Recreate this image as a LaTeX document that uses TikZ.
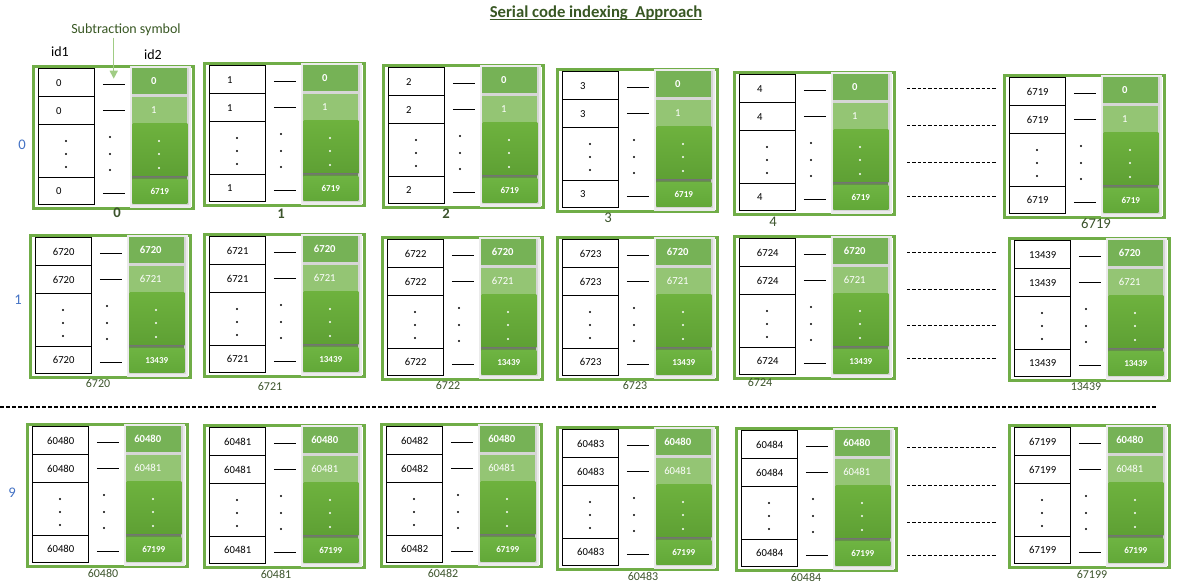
\documentclass[tikz,border=0pt]{standalone}
\usepackage{fontspec}
\setmainfont{Carlito}
\usepackage{tikz}
\usetikzlibrary{arrows.meta,calc}
\definecolor{framegreen}{RGB}{112,173,71}
\definecolor{topgreen}  {RGB}{118,178,86}
\definecolor{litegreen} {RGB}{148,197,116}
\definecolor{dotgreenA} {RGB}{110,178,62}
\definecolor{dotgreenB} {RGB}{94,160,52}
\definecolor{lastgreenA}{RGB}{110,180,66}
\definecolor{lastgreenB}{RGB}{98,168,56}
\definecolor{titlegreen}{RGB}{56,87,35}
\definecolor{labelgreen}{RGB}{60,84,44}
\definecolor{rowblue}   {RGB}{68,114,196}
\definecolor{arrowgreen}{RGB}{160,204,132}
\tikzset{
  idframe/.style ={draw=framegreen, line width=2.2pt, anchor=north west,
                   minimum width=120pt, minimum height=106.5pt, inner sep=0pt},
  idcell/.style  ={draw=black, line width=1.1pt, fill=white, anchor=north west,
                   minimum width=42pt, inner sep=0pt, font=\fontsize{8}{9}\selectfont},
  codecell/.style={anchor=north west, minimum width=41.25pt, inner sep=0pt,
                   text=white, font=\fontsize{8}{9}\selectfont},
  subline/.style ={line width=1pt},
  gapline/.style ={line width=0.7pt, dash pattern=on 2.5pt off 1.5pt},
  sepline/.style ={line width=0.8pt, dash pattern=on 3pt off 1.5pt},
  subarr/.style  ={-{Triangle[length=6pt,width=6pt]}, draw=arrowgreen, line width=1.1pt},
  blklabel/.style={text=labelgreen, font=\fontsize{9}{11}\selectfont},
  rowlabel/.style={text=rowblue, font=\fontsize{11}{13}\selectfont},
  headlabel/.style={font=\fontsize{10.5}{12}\selectfont},
}

\begin{document}
\begin{tikzpicture}[x=0.75pt,y=-0.75pt]
  \useasboundingbox (0,0) rectangle (1187,588);
  % title
  \node[inner sep=0pt, text=titlegreen, font=\fontsize{12.5}{14}\bfseries] (title) at (596,13)
       {Serial code indexing\ \ Approach};
  \draw[titlegreen, line width=0.9pt] ([yshift=-1.6pt]title.base west) -- ([yshift=-1.6pt]title.base east);

  % blocks: x / y / id1 / first id2 / second id2 / last id2 / label x / label y
  \foreach \bx/\by/\ida/\idf/\ids/\idl/\lx/\ly in {
      32/65/0/0/1/6719/117/213,
      203/62/1/0/1/6719/281/214,
      382/64/2/0/1/6719/446/214,
      556/68/3/0/1/6719/608/218,
      733/71/4/0/1/6719/773/222,
      1003/74/6719/0/1/6719/1096/224,
      29/234/6720/6720/6721/13439/98/383,
      203/233/6721/6720/6721/13439/270/386,
      381/236/6722/6720/6721/13439/448/385,
      556/236/6723/6720/6721/13439/635/385,
      733/235/6724/6720/6721/13439/760/382,
      1008/237/13439/6720/6721/13439/1086/387,
      26/423/60480/60480/60481/67199/103/573,
      203/424/60481/60480/60481/67199/276/574,
      380/423/60482/60480/60481/67199/443/573,
      556/426/60483/60480/60481/67199/643/576,
      735/427/60484/60480/60481/67199/806/577,
      1008/424/67199/60480/60481/67199/1092/574}{
    \begin{scope}[shift={(\bx,\by)}]
      \node[idframe] (blk-\ida) at (0,0) {};
      % id1 column
      \node[idcell, minimum height=21pt]    (a1-\ida) at (6,3)   {\ida\ifnum\ida<10 \kern12pt\fi};
      \node[idcell, minimum height=21pt]    (a2-\ida) at (6,31)  {\ida\ifnum\ida<10 \kern12pt\fi};
      \node[idcell, minimum height=39.75pt] (a3-\ida) at (6,59)  {};
      \node[idcell, minimum height=20.25pt] (a4-\ida) at (6,112) {\ida\ifnum\ida<10 \kern12pt\fi};
      % id2 column
      \fill[black!8]  (98,1) rectangle (159,143);
      \fill[black!16] (100,3) rectangle (157,140);
      \node[codecell, minimum height=19.5pt, fill=topgreen, font=\fontsize{8}{9}\bfseries]
           (b1-\ida) at (100,3) {\idf\kern9pt};
      \node[codecell, minimum height=19.5pt, fill=litegreen] (b2-\ida) at (100,32) {\ids\kern9pt};
      \node[codecell, minimum height=39.75pt, top color=dotgreenA, bottom color=dotgreenB]
           (b3-\ida) at (100,58) {};
      \shade[top color=black!55, bottom color=dotgreenB] (100,111) rectangle (155,114);
      \node[codecell, minimum height=18pt, top color=lastgreenA, bottom color=lastgreenB,
            font=\fontsize{6.8}{8}\bfseries] (b4-\ida) at (100,114) {\idl};
      % subtraction symbols
      \draw[subline] ($(a1-\ida.east)!0.2!(a1-\ida.east -| b1-\ida.west)+(0,2)$)
                  -- ($(a1-\ida.east)!0.8!(a1-\ida.east -| b1-\ida.west)+(0,2)$);
      \draw[subline] ($(a2-\ida.east)!0.2!(a2-\ida.east -| b2-\ida.west)$)
                  -- ($(a2-\ida.east)!0.8!(a2-\ida.east -| b2-\ida.west)$);
      \draw[subline] ($(a4-\ida.east)!0.2!(a4-\ida.east -| b4-\ida.west)+(0,2)$)
                  -- ($(a4-\ida.east)!0.8!(a4-\ida.east -| b4-\ida.west)+(0,2)$);
      \coordinate (m-\ida) at ($(a1-\ida.east)!0.5!(a1-\ida.east -| b1-\ida.west)+(0,2)$);
      % dots
      \foreach \dy in {76,89,102} \fill (34,\dy) circle (1.1);
      \foreach \dy in {72,89,105} \fill (78,\dy) circle (1.1);
      \foreach \dy in {76,89,103} \fill[white] (127,\dy) circle (1.1);
    \end{scope}
    \node[blklabel] (lab-\ida) at (\lx,\ly)
         {\ifnum\by<200 \fontsize{11}{13}\selectfont\ifnum\ida<3 \bfseries\fi\fi\ida};
  }

  % column heads and pointer
  \node[headlabel] (id1) at (60,52) {id1};
  \node[headlabel] (id2) at (153,55) {id2};
  \node[headlabel, text=titlegreen, inner sep=1pt] (subtxt) at (126,30) {Subtraction symbol};
  \draw[subarr] (subtxt.south -| m-0) -- ([yshift=4.5pt]m-0);

  % row labels
  \node[rowlabel] (row0) at (22,145) {0};
  \node[rowlabel] (row1) at (18,300) {1};
  \node[rowlabel] (row9) at (12,493) {9};

  % gaps between block 4 and the last block
  \foreach \gy in {88,125,162,196,252,289,325,358,447,485,522,555}
    \draw[gapline] (907,\gy) -- (997,\gy);
  \draw[sepline] (0,407) -- (1157,407);
\end{tikzpicture}
\end{document}
